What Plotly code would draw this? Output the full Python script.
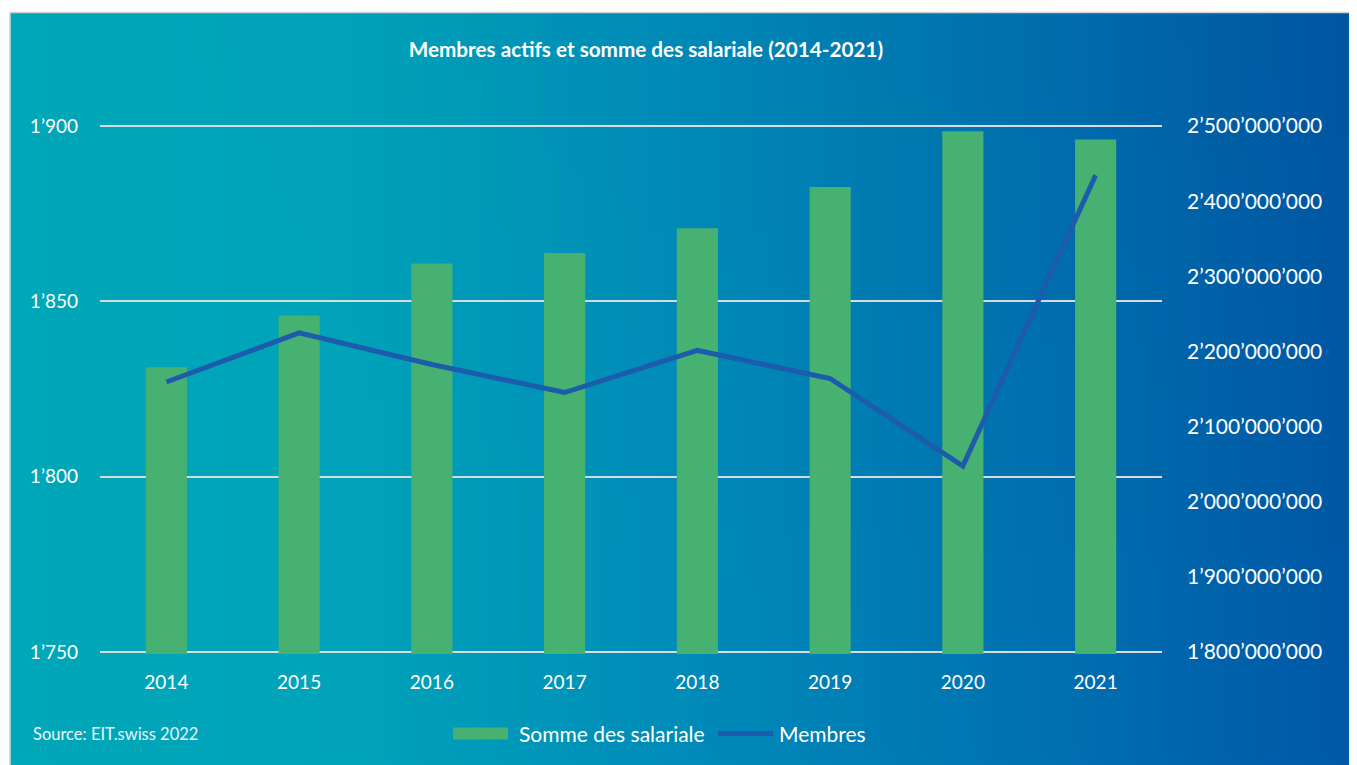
import base64
import struct
import zlib

import plotly.graph_objects as go

# ---------------- data ----------------
years = ["2014", "2015", "2016", "2017", "2018", "2019", "2020", "2021"]
salary_sum = [2179e6, 2248e6, 2317e6, 2331e6, 2364e6, 2419e6, 2493e6, 2482e6]
members = [1827, 1841, 1832, 1824, 1836, 1828, 1803, 1886]

members_ticks = [1750, 1800, 1850, 1900]
members_ticktext = ["1’750", "1’800", "1’850", "1’900"]
salary_ticks = [1.8e9, 1.9e9, 2.0e9, 2.1e9, 2.2e9, 2.3e9, 2.4e9, 2.5e9]
salary_ticktext = ["1’800’000’000", "1’900’000’000", "2’000’000’000", "2’100’000’000",
                   "2’200’000’000", "2’300’000’000", "2’400’000’000", "2’500’000’000"]

title_text = "Membres actifs et somme des salariale (2014-2021)"
source_text = "Source: EIT.swiss 2022"
legend_names = ["Somme des salariale", "Membres"]

# ---------------- geometry (page pixels) ----------------
OFF = 8                      # default body margin of the html page
PAGE_W, PAGE_H = 1357, 765
W, H = PAGE_W - OFF, PAGE_H - OFF

EPS = 0.6                    # small range padding so the edge gridlines are drawn
M_RANGE = [1750 - EPS, 1900 + EPS]
S_PER_M = (2.5e9 - 1.8e9) / 150.0
S_RANGE = [1.8e9 - EPS * S_PER_M, 2.5e9 + EPS * S_PER_M]

PX_PER_UNIT = (652.3 - 125.7) / 150.0
PL, PR = 100.0, 1162.0
PT = 125.7 - EPS * PX_PER_UNIT
PB = 652.3 + EPS * PX_PER_UNIT
PW, PH = PR - PL, PB - PT
BG_L, BG_T = 10, 12          # coloured panel top-left corner


def px_x(p):
    return (p - PL) / PW


def px_y(p):
    return (PB - p) / PH


# ---------------- gradient background as a tiny PNG ----------------
stops = [(0.0, (1, 168, 185)), (0.25, (0, 164, 186)), (0.5, (0, 140, 186)),
         (0.78, (0, 112, 177)), (1.0, (0, 88, 167))]


def grad(t):
    for (t0, c0), (t1, c1) in zip(stops[:-1], stops[1:]):
        if t <= t1:
            f = (t - t0) / (t1 - t0)
            return tuple(int(round(a + (b - a) * f)) for a, b in zip(c0, c1))
    return stops[-1][1]


def make_png(w, h):
    rows = []
    for yy in range(h):
        row = bytearray([0])
        vy = yy / (h - 1)
        for xx in range(w):
            t = xx / (w - 1)
            r, g, b = grad(t)
            k = 1.0 - 0.04 * t * (1 - vy)
            row += bytes([max(0, min(255, int(r * k))), max(0, min(255, int(g * k))),
                          max(0, min(255, int(b * k)))])
        rows.append(bytes(row))
    raw = b"".join(rows)

    def chunk(tag, data):
        c = struct.pack(">I", len(data)) + tag + data
        return c + struct.pack(">I", zlib.crc32(tag + data) & 0xffffffff)

    png = b"\x89PNG\r\n\x1a\n"
    png += chunk(b"IHDR", struct.pack(">IIBBBBB", w, h, 8, 2, 0, 0, 0))
    png += chunk(b"IDAT", zlib.compress(raw, 9))
    png += chunk(b"IEND", b"")
    return "data:image/png;base64," + base64.b64encode(png).decode()


bg_src = make_png(400, 40)

FONT = "Lato"
WHITE = "#ffffff"
BAR_COLOR = "#46B170"
LINE_COLOR = "#1D5BAC"

fig = go.Figure()
fig.add_trace(go.Bar(
    x=years, y=salary_sum, name=legend_names[0],
    marker=dict(color=BAR_COLOR, line=dict(width=0)),
    yaxis="y", showlegend=False,
))
fig.add_trace(go.Scatter(
    x=years, y=members, name=legend_names[1], mode="lines",
    line=dict(color=LINE_COLOR, width=5),
    yaxis="y2", showlegend=False,
))

# custom legend (swatches + labels) placed like the reference
legend_shapes = [
    dict(type="rect", xref="paper", yref="paper", x0=px_x(453), x1=px_x(508),
         y0=px_y(740), y1=px_y(728), fillcolor=BAR_COLOR, line=dict(width=0),
         layer="above"),
    dict(type="line", xref="paper", yref="paper", x0=px_x(718), x1=px_x(773),
         y0=px_y(734), y1=px_y(734), line=dict(color=LINE_COLOR, width=5),
         layer="above"),
]
legend_annots = [
    dict(text=legend_names[0], xref="paper", yref="paper", x=px_x(517), y=px_y(734),
         xanchor="left", yanchor="middle", showarrow=False,
         font=dict(family=FONT, size=21, color=WHITE)),
    dict(text=legend_names[1], xref="paper", yref="paper", x=px_x(777), y=px_y(734),
         xanchor="left", yanchor="middle", showarrow=False,
         font=dict(family=FONT, size=21, color=WHITE)),
]

fig.update_layout(
    width=W, height=H,
    margin=dict(l=PL - OFF, r=PAGE_W - PR, t=PT - OFF, b=PAGE_H - PB, pad=0),
    paper_bgcolor="#ffffff",
    plot_bgcolor="rgba(0,0,0,0)",
    font=dict(family=FONT, color=WHITE, size=19),
    bargap=0.69,
    showlegend=False,
    title=dict(text="<b>" + title_text + "</b>", x=px_x(646), xref="paper",
               xanchor="center", y=1 - (50 - OFF) / H, yref="container",
               yanchor="middle", font=dict(family=FONT, size=20.7, color=WHITE)),
    xaxis=dict(type="category", showgrid=False, zeroline=False, showline=False,
               ticks="", tickfont=dict(size=19, color=WHITE), ticklabelstandoff=15,
               range=[-0.5, 7.5]),
    yaxis=dict(side="right", range=S_RANGE, tickvals=salary_ticks,
               ticktext=salary_ticktext, showgrid=False, zeroline=False,
               showline=False, ticks="", tickfont=dict(size=21, color=WHITE),
               ticklabelstandoff=24),
    yaxis2=dict(side="left", overlaying="y", range=M_RANGE,
                tickvals=members_ticks, ticktext=members_ticktext,
                showgrid=True, gridcolor="#D6DCE0", gridwidth=1.6,
                zeroline=False, showline=False, ticks="",
                tickfont=dict(size=19, color=WHITE), ticklabelstandoff=21),
    images=[dict(source=bg_src, xref="paper", yref="paper",
                 x=px_x(BG_L), y=px_y(BG_T), sizex=(PAGE_W - BG_L + 4) / PW,
                 sizey=(PAGE_H - BG_T + 4) / PH, sizing="stretch", xanchor="left",
                 yanchor="top", layer="below")],
    shapes=[dict(type="rect", xref="paper", yref="paper", x0=px_x(BG_L),
                 x1=px_x(PAGE_W + 4), y0=px_y(BG_T), y1=px_y(PAGE_H + 4),
                 line=dict(color="#D3D3D3", width=1.5), fillcolor="rgba(0,0,0,0)",
                 layer="below")] + legend_shapes,
    annotations=[dict(text=source_text, xref="paper", yref="paper",
                      x=px_x(31), y=px_y(735), xanchor="left", yanchor="middle",
                      showarrow=False,
                      font=dict(family=FONT, size=16.5, color="#EAF6F8"))] + legend_annots,
)

fig.write_html("out.html")
